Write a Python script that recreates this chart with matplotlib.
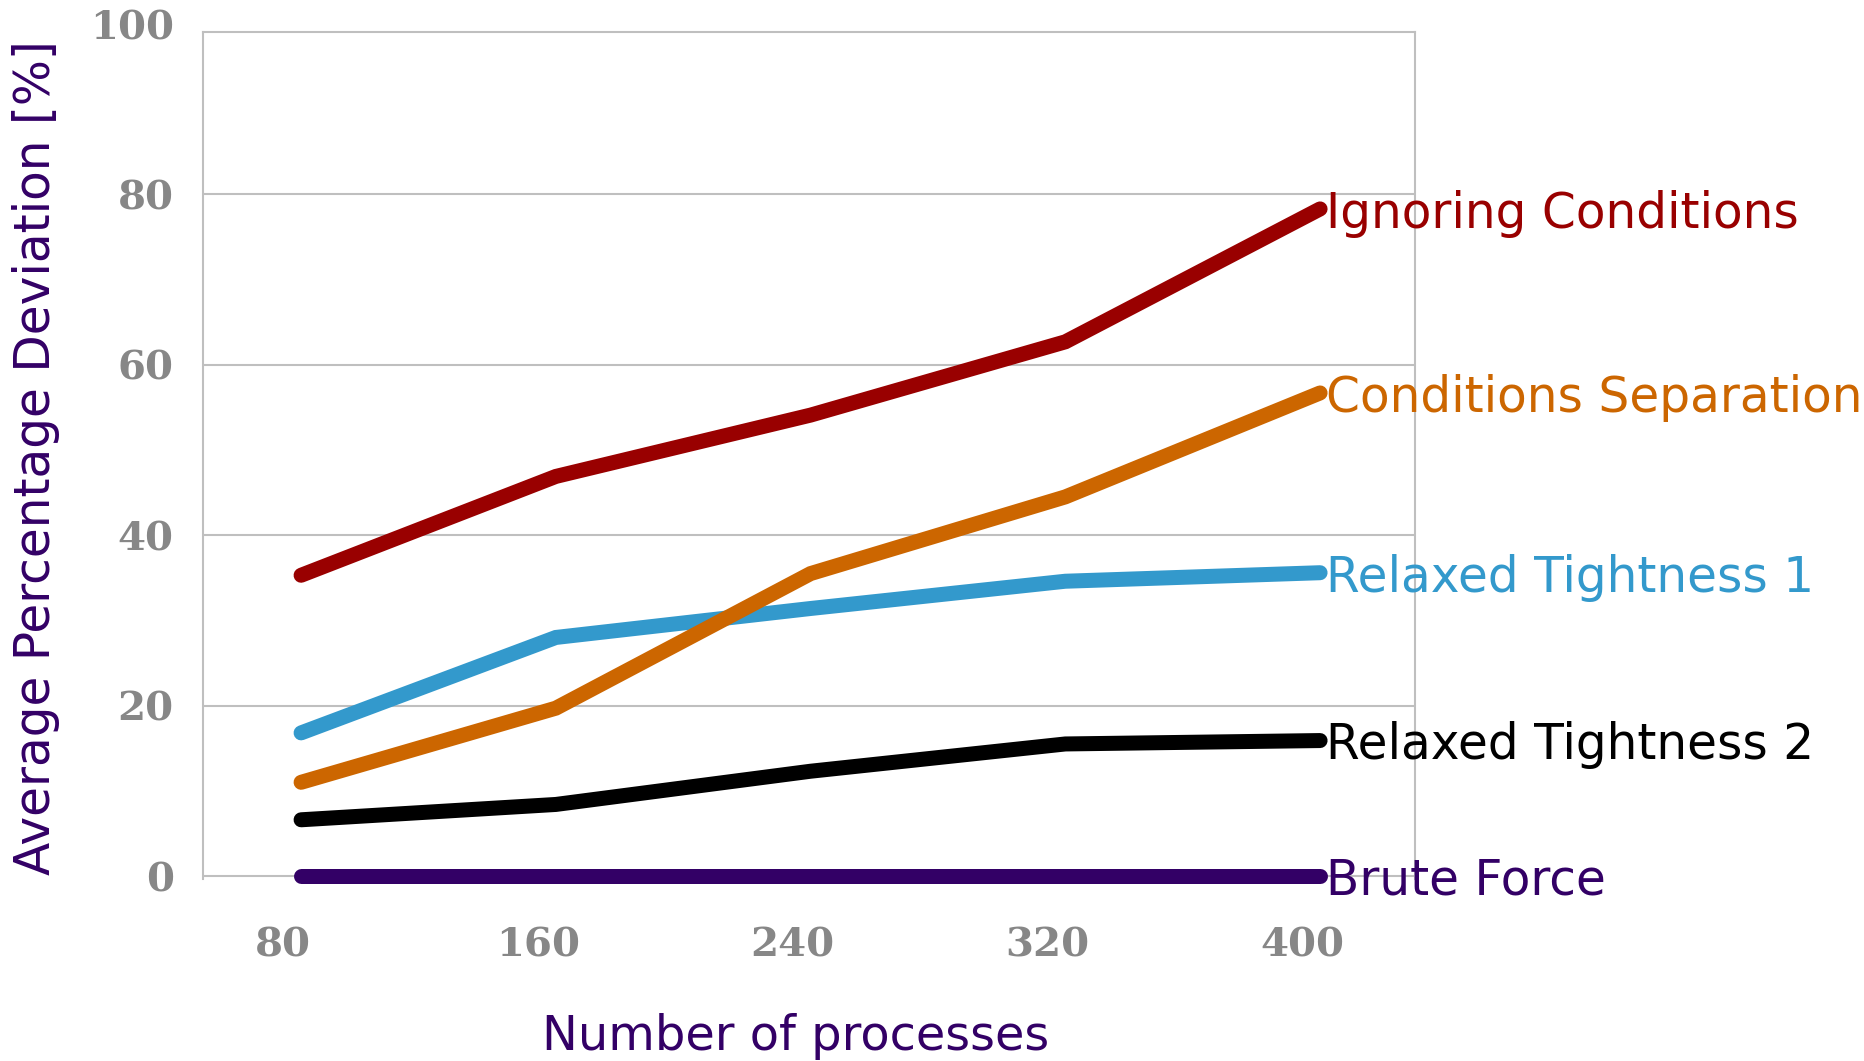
import matplotlib
matplotlib.use("Agg")
import matplotlib.pyplot as plt
import matplotlib.transforms as mtransforms

# Number of processes on the x axis
processes = [80, 160, 240, 320, 400]

# Average percentage deviation per method
ignoring_conditions = [35.3, 46.9, 54.1, 62.7, 78.3]
conditions_separation = [11.0, 19.7, 35.5, 44.5, 56.7]
relaxed_tightness_1 = [16.8, 28.0, 31.4, 34.6, 35.6]
relaxed_tightness_2 = [6.6, 8.4, 12.3, 15.5, 15.9]
brute_force = [0, 0, 0, 0, 0]

series_names = ["Brute Force", "Relaxed Tightness 2", "Relaxed Tightness 1",
                "Conditions Separation", "Ignoring Conditions"]
series_values = [brute_force, relaxed_tightness_2, relaxed_tightness_1,
                 conditions_separation, ignoring_conditions]
series_colors = ["#330066", "#000000", "#3399CC", "#CC6600", "#990000"]

y_ticks = [0, 20, 40, 60, 80, 100]

W, H, DPI = 1864, 1061, 100
grid_color = "#BFBFBF"
tick_color = "#878787"
title_color = "#330066"
tick_font = dict(family="DejaVu Serif", weight="bold", size=29, color=tick_color)
Y_PAD = 21

fig = plt.figure(figsize=(W / DPI, H / DPI), dpi=DPI)
ax = fig.add_axes([203 / W, 182 / H, (1415 - 203) / W, (879 - 31.7) / H])

for name, vals, col in zip(series_names, series_values, series_colors):
    ax.plot(processes, vals, color=col, lw=10.8, solid_capstyle="round",
            solid_joinstyle="miter", clip_on=False, zorder=3)
    ax.annotate(name, xy=(processes[-1], vals[-1]), xytext=(4.5, -13.6),
                textcoords="offset points", ha="left", va="baseline",
                color=col, fontsize=35, fontfamily="DejaVu Sans",
                annotation_clip=False, zorder=4)

# the plot frame stops just short of the top tick
ax.set_xlim(49.2, 429.8)
ax.set_ylim(-0.35, 99.1)
ax.set_xticks(processes)
ax.set_yticks([t for t in y_ticks if t <= 99.1])
ax.tick_params(length=0)
ax.tick_params(axis="y", pad=Y_PAD)
ax.tick_params(axis="x", pad=34)
for lbl in ax.get_xticklabels() + ax.get_yticklabels():
    lbl.set(**tick_font)

shift = mtransforms.ScaledTranslation(-18 / DPI, 0, fig.dpi_scale_trans)
for lbl in ax.get_xticklabels():
    lbl.set_transform(lbl.get_transform() + shift)

# tick labels above the frame
above = [t for t in y_ticks if t > 99.1]
left_shift = mtransforms.ScaledTranslation(-Y_PAD / 72, 0, fig.dpi_scale_trans)
for t in above:
    ax.text(0, t, str(t), transform=ax.get_yaxis_transform() + left_shift,
            ha="right", va="center_baseline", clip_on=False, **tick_font)

ax.yaxis.grid(True, color=grid_color, lw=1.5)
ax.set_axisbelow(True)
for sp in ax.spines.values():
    sp.set_color(grid_color)
    sp.set_linewidth(1.5)
ax.spines["bottom"].set_visible(False)

fig.text(796 / W, 1 - 1036 / H, "Number of processes", ha="center",
         va="center", fontsize=34.5, color=title_color, fontfamily="DejaVu Sans")
fig.text(36 / W, 1 - 458 / H, "Average Percentage Deviation [%]",
         rotation=90, ha="center", va="center", fontsize=35,
         color=title_color, fontfamily="DejaVu Sans")

fig.savefig("out.png", dpi=DPI, facecolor="white")
